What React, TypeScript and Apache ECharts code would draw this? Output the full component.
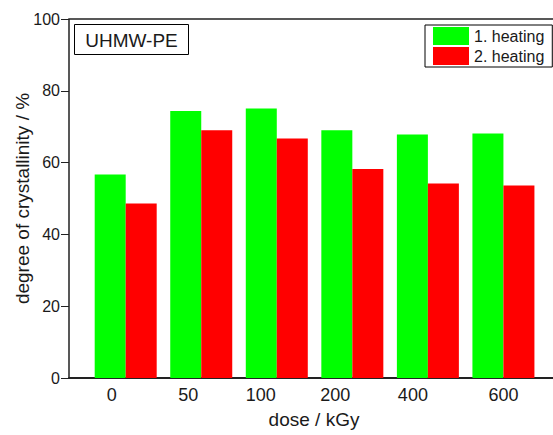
import React, { useEffect, useRef } from "react";
import * as echarts from "echarts";

const categories = ["0", "50", "100", "200", "400", "600"];
const firstHeating = [56.7, 74.4, 75.1, 69.0, 67.8, 68.1];
const secondHeating = [48.6, 69.0, 66.7, 58.2, 54.2, 53.6];
const seriesNames = ["1. heating", "2. heating"];
const yMin = 0;
const yMax = 100;
const yInterval = 20;
const xMin = -0.7505;
const xMax = 5.868;

// label offsets (px, style only) to mimic reference label placement
const labelShift = [-14, -13, -16, -17, -15, 0];

const FONT = "'Liberation Sans', Arial, Helvetica, sans-serif";
const TEXT = "#1a1a1a";
const AXIS = "#222";

export default function App() {
  const ref = useRef<HTMLDivElement>(null);

  useEffect(() => {
    if (!ref.current) return;
    const chart = echarts.init(ref.current, null, { renderer: "svg" });

    const rich: Record<string, any> = {};
    labelShift.forEach((s, i) => {
      rich["s" + i] = {
        fontSize: 18,
        fontFamily: FONT,
        color: TEXT,
        padding: s < 0 ? [0, -2 * s, 0, 0] : [0, 0, 0, 2 * s],
      };
    });

    chart.setOption({
      animation: false,
      backgroundColor: "#ffffff",
      textStyle: { fontFamily: FONT },
      grid: {
        left: 69,
        top: 19,
        width: 500,
        bottom: 57,
        show: true,
        borderColor: AXIS,
        borderWidth: 1.5,
        backgroundColor: "transparent",
        containLabel: false,
        outerBoundsMode: "none",
      },
      legend: {
        data: seriesNames,
        orient: "vertical",
        left: 425,
        top: 25,
        itemWidth: 36,
        itemHeight: 18,
        itemGap: 2,
        padding: [2, 8, 2, 8],
        borderColor: "#000",
        borderWidth: 1,
        icon: "rect",
        textStyle: { fontSize: 16, color: TEXT, fontFamily: FONT, lineHeight: 18 },
      },
      xAxis: {
        type: "value",
        min: xMin,
        max: xMax,
        name: "dose / kGy",
        nameLocation: "middle",
        nameGap: 32,
        nameTextStyle: { fontSize: 19, color: TEXT, fontFamily: FONT, padding: [0, 10, 0, 0] },
        axisLine: { show: true, onZero: false, lineStyle: { color: AXIS, width: 2 } },
        axisTick: { show: false },
        splitLine: { show: false },
        axisLabel: {
          customValues: categories.map((_, i) => i),
          margin: 8,
          fontSize: 18,
          color: TEXT,
          fontFamily: FONT,
          formatter: (v: number) => {
            const i = Math.round(v);
            return "{s" + i + "|" + categories[i] + "}";
          },
          rich,
        },
      },
      yAxis: {
        type: "value",
        min: yMin,
        max: yMax,
        interval: yInterval,
        name: "degree of crystallinity / %",
        nameLocation: "middle",
        nameRotate: 90,
        nameGap: 37,
        nameMoveOverlap: false,
        nameTextStyle: { fontSize: 19, color: TEXT, fontFamily: FONT },
        axisLine: { show: false, onZero: false },
        axisTick: { show: true, inside: false, length: 8, lineStyle: { color: AXIS, width: 1 } },
        splitLine: { show: false },
        axisLabel: { margin: 9, fontSize: 16, color: TEXT, fontFamily: FONT },
      },
      graphic: [
        {
          type: "rect",
          shape: { x: 74.5, y: 24.5, width: 114, height: 30 },
          style: { fill: "#fff", stroke: "#000", lineWidth: 1 },
          z: 10,
        },
        {
          type: "text",
          x: 131.5,
          y: 40,
          style: {
            text: "UHMW-PE",
            fontSize: 19,
            fontFamily: FONT,
            fill: TEXT,
            align: "center",
            verticalAlign: "middle",
          },
          z: 11,
        },
      ],
      series: [
        {
          name: seriesNames[0],
          type: "bar",
          data: firstHeating.map((v, i) => [i, v]),
          barWidth: 31,
          barGap: "0%",
          itemStyle: { color: "#00ff00" },
        },
        {
          name: seriesNames[1],
          type: "bar",
          data: secondHeating.map((v, i) => [i, v]),
          barWidth: 31,
          barGap: "0%",
          itemStyle: { color: "#ff0000" },
        },
      ],
    });

    return () => chart.dispose();
  }, []);

  return (
    <div
      ref={ref}
      style={{ position: "absolute", left: 0, top: 0, width: 553, height: 435 }}
    />
  );
}
